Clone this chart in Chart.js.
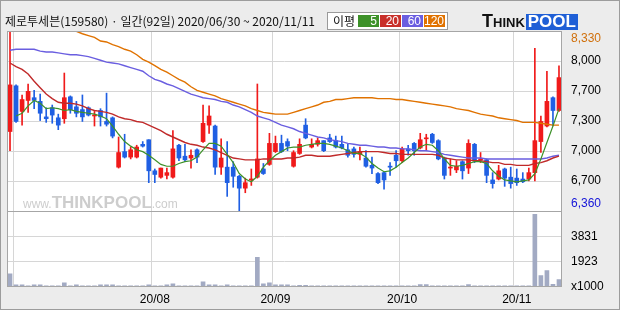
<!DOCTYPE html>
<html><head><meta charset="utf-8">
<script src="https://cdn.jsdelivr.net/npm/chart.js@4"></script>
<style>
html,body{margin:0;padding:0;background:#ececec;}
#wrap{position:relative;width:620px;height:310px;overflow:hidden;background:#ececec;}
#c{position:absolute;left:0;top:0;}
#frame{position:absolute;left:0;top:0;width:620px;height:310px;box-sizing:border-box;border:1px solid #9c9c9c;pointer-events:none;}
#title{position:absolute;left:5px;top:12px;font:12px "Noto Sans CJK KR";color:#111;white-space:nowrap;}
#legend{position:absolute;left:327px;top:12px;width:119px;height:16px;background:#fff;border:1px solid #9a9a9a;}
#legend .lab{position:absolute;left:5px;top:0px;font:12px "Noto Sans CJK KR";color:#111;line-height:15px;}
#legend .cell{position:absolute;top:2px;height:12px;width:21px;color:#fff;font:12px "Liberation Sans";line-height:12px;text-align:right;box-sizing:border-box;padding-right:2px;}
#logo{position:absolute;left:482px;top:11px;white-space:nowrap;font-family:"Liberation Sans";font-weight:bold;}
#logo .t1{font-size:18px;color:#111;}
#logo .t2{font-size:13px;color:#111;}
#logo .pool{display:inline-block;background:#1f5fd6;color:#fff;font-size:17px;padding:0 2px;line-height:16px;margin-left:1px;}
#wm{position:absolute;left:23px;top:193px;white-space:nowrap;font-family:"Liberation Sans";color:#cdcdcd;pointer-events:none;}
#wm .s{font-size:12px;}
#wm .b{font-size:17px;font-weight:bold;}
</style></head>
<body>
<div id="wrap">
<canvas id="c" width="620" height="310"></canvas>
<div id="title">제로투세븐(159580) · 일간(92일) 2020/06/30 ~ 2020/11/11</div>
<div id="legend"><span class="lab">이평</span>
<div class="cell" style="left:30px;background:#3d9129">5</div>
<div class="cell" style="left:52px;background:#c8302a">20</div>
<div class="cell" style="left:74px;background:#6a5ee0">60</div>
<div class="cell" style="left:96px;background:#e07200">120</div>
</div>
<div id="logo"><span class="t1">T</span><span class="t2">HINK</span><span class="pool">POOL</span></div>
<div id="wm"><span class="s">www.</span><span class="b">THINKPOOL</span><span class="s">.com</span></div>
<div id="frame"></div>
</div>
<script>
const dates = ['06/30',
 '07/01','07/02','07/03','07/06','07/07','07/08','07/09','07/10','07/13','07/14','07/15','07/16','07/17','07/20','07/21','07/22','07/23','07/24','07/27','07/28','07/29','07/30','07/31',
 '08/03','08/04','08/05','08/06','08/07','08/10','08/11','08/12','08/13','08/14','08/18','08/19','08/20','08/21','08/24','08/25','08/26','08/27','08/28','08/31',
 '09/01','09/02','09/03','09/04','09/07','09/08','09/09','09/10','09/11','09/14','09/15','09/16','09/17','09/18','09/21','09/22','09/23','09/24','09/25','09/28','09/29',
 '10/05','10/06','10/07','10/08','10/12','10/13','10/14','10/15','10/16','10/19','10/20','10/21','10/22','10/23','10/26','10/27','10/28','10/29','10/30',
 '11/02','11/03','11/04','11/05','11/06','11/09','11/10','11/11'];

const openP = [7230,7730,7450,7570,7600,7560,7390,7490,7380,7370,
 7610,7500,7470,7490,7400,7460,7340,7380,6840,7010,
 6950,6950,7090,7140,6800,6730,6750,6730,7080,6960,
 6940,7030,7120,7300,7290,6840,6840,6840,6740,6610,
 6700,6730,6820,6870,7010,7100,7120,6850,6990,7300,
 7060,7090,7130,7160,7130,7090,7030,7040,6980,6940,
 6860,6770,6780,6850,6970,6910,7040,7100,7050,7150,
 7200,7130,6940,6830,6810,6900,6830,7090,6920,6920,
 6700,6710,6820,6730,6720,6710,6710,6780,7120,7290,
 7600,7460];
const highP = [8330,7740,7630,7750,7680,7640,7490,7520,7420,7870,
 7620,7560,7630,7500,7450,7480,7650,7390,7170,7200,
 7060,7080,7120,7140,6820,6830,6830,7240,7090,7090,
 7030,7040,7520,7510,7300,7150,7120,6900,6750,6720,
 6820,7750,6880,7210,7180,7190,7150,7020,7150,7370,
 7150,7160,7130,7200,7180,7180,7090,7060,7060,7020,
 6950,6780,6790,6890,7020,7060,7080,7110,7210,7200,
 7210,7140,6950,6930,6910,6910,7140,7100,7000,6930,
 6780,6860,6830,6840,6820,6780,6830,8140,7400,7890,
 7610,7950];
const lowP = [7020,7330,7300,7440,7480,7350,7330,7320,7250,7320,
 7430,7390,7340,7400,7290,7290,7290,7160,6830,6940,
 6930,6940,7060,6670,6670,6720,6710,6720,6910,6900,
 6830,6890,7110,7210,6760,6760,6520,6620,6360,6560,
 6640,6720,6760,6860,7000,7000,7020,6840,6980,7150,
 7050,7070,7010,7110,7050,7040,6950,6950,6920,6840,
 6770,6660,6600,6750,6840,6890,6970,6970,7040,7020,
 7100,6920,6710,6750,6780,6710,6770,6890,6890,6670,
 6610,6700,6630,6610,6640,6670,6690,6690,7000,7280,
 7290,7450];
const closeP = [7740,7340,7580,7670,7570,7430,7370,7410,7300,7600,
 7470,7430,7390,7410,7410,7390,7310,7180,7000,6950,
 7030,7060,7070,6800,6760,6830,6780,7040,6940,6920,
 6970,6950,7320,7400,6840,6940,6670,6740,6610,6670,
 6710,6930,6770,7100,7100,7010,7070,7000,7090,7160,
 7090,7130,7020,7120,7060,7050,6970,6980,7010,6850,
 6830,6670,6700,6840,6910,7040,7020,7020,7140,7160,
 7110,6930,6750,6840,6850,6800,7100,6910,6930,6750,
 6660,6800,6720,6660,6670,6680,6780,7130,7340,7560,
 7460,7820];
const volume = [970,130,130,60,130,130,60,60,60,280,
 60,130,60,60,60,130,130,130,60,60,
 60,60,60,130,60,60,130,210,60,60,
 60,60,360,130,130,60,130,60,60,60,
 60,2220,210,280,130,130,130,60,100,100,
 60,60,60,60,60,60,60,60,60,60,
 60,60,60,60,60,60,60,60,150,150,
 60,60,60,60,60,60,150,60,60,60,
 60,60,60,60,60,60,60,5500,840,1220,
 180,530];
const ma5 = [null,7400,7430,7510,7570,7540,7480,7490,7480,7460,
 7470,7450,7440,7430,7420,7400,7370,7290,7200,7120,
 7070,7030,7010,6970,6920,6870,6850,6850,6880,6900,
 6910,6950,7030,7100,7100,7070,6980,6890,6770,6710,
 6680,6740,6840,6910,6970,7010,7050,7060,7060,7080,
 7090,7100,7100,7090,7070,7050,7020,6990,6990,6950,
 6880,6830,6790,6800,6840,6890,6940,7000,7060,7090,
 7080,7020,6930,6860,6850,6860,6880,6900,6900,6880,
 6800,6740,6700,6690,6680,6690,6700,6770,6930,7110,
 7290,7480];
const ma20 = [7980,7940,7910,7860,7780,7710,7640,7590,7550,7540,
 7540,7530,7510,7480,7460,7450,7440,7420,7390,7370,
 7360,7340,7330,7300,7270,7240,7200,7170,7140,7110,
 7090,7080,7060,7050,7030,7000,6970,6940,6930,6920,
 6920,6920,6930,6930,6930,6930,6940,6940,6950,6970,
 6970,6960,6960,6960,6970,6980,6990,7000,7010,7010,
 7010,7010,7000,6990,6990,6980,6980,6980,6980,6980,
 6980,6970,6940,6930,6920,6920,6920,6910,6910,6900,
 6890,6890,6870,6870,6860,6860,6860,6880,6890,6910,
 6940,6960];
const ma60 = [8120,8130,8130,8130,8130,8110,8100,8100,8090,8080,
 8070,8070,8060,8050,8030,8010,7990,7980,7970,7950,
 7930,7910,7890,7840,7800,7780,7750,7730,7700,7670,
 7640,7620,7600,7590,7580,7560,7550,7520,7500,7470,
 7440,7400,7380,7360,7330,7300,7280,7260,7230,7210,
 7190,7170,7160,7140,7130,7120,7100,7090,7080,7080,
 7070,7060,7060,7050,7050,7040,7040,7030,7020,7020,
 7010,7000,6980,6970,6960,6950,6940,6940,6940,6930,
 6930,6930,6930,6930,6930,6930,6930,6930,6930,6940,
 6960,6970];
const ma120 = [null,null,null,null,null,null,null,null,8400,8380,
 8355,8327,8300,8280,8260,8220,8210,8180,8160,8130,
 8110,8070,8020,7990,7950,7910,7880,7840,7800,7770,
 7720,7680,7660,7640,7620,7590,7570,7550,7530,7510,
 7480,7460,7440,7430,7420,7420,7420,7440,7460,7480,
 7500,7520,7550,7560,7580,7580,7590,7600,7600,7600,
 7600,7590,7590,7590,7580,7580,7570,7560,7550,7540,
 7530,7520,7510,7500,7480,7470,7460,7440,7420,7410,
 7400,7380,7370,7360,7350,7330,7330,7330,7320,7310,
 7300,7300];

const priceTickLabels = ['6,360','6,700','7,000','7,300','7,700','8,000','8,330'];
const priceMin = 6360, priceMax = 8330;
const volTickLabels = ['x1000','1923','3831'];
const volMax = 5750;
const monthStarts = ['07/01','08/03','09/01','10/05','11/02'];
const monthLabels = ['','20/08','20/09','20/10','20/11'];

const UP = '#f01a1a', DOWN = '#1f5fe3';
const isUp = i => closeP[i] >= openP[i];
const candleColor = ctx => isUp(ctx.dataIndex) ? UP : DOWN;
const wickData = dates.map((d, i) => [lowP[i], highP[i]]);
const bodyData = dates.map((d, i) => [openP[i], closeP[i]]);
const GRID = '#d6d6d6';

Chart.defaults.font.family = 'Liberation Sans';
Chart.defaults.font.size = 12;

const framePlugin = {
  id: 'frame',
  beforeDraw(chart) {
    const {ctx, chartArea: a} = chart;
    ctx.save();
    ctx.fillStyle = '#fff';
    ctx.fillRect(a.left, a.top, a.right - a.left, a.bottom - a.top);
    ctx.restore();
  },
  afterDraw(chart) {
    const {ctx, chartArea: a, scales} = chart;
    ctx.save();
    ctx.strokeStyle = '#a6a6a6';
    ctx.lineWidth = 1;
    ctx.strokeRect(Math.round(a.left) + 0.5, Math.round(a.top) + 0.5, Math.round(a.right - a.left) - 1, Math.round(a.bottom - a.top) - 1);
    const sy = Math.round(scales.yp.bottom) + 0.5;
    ctx.beginPath(); ctx.moveTo(a.left, sy); ctx.lineTo(a.right, sy); ctx.stroke();
    ctx.restore();
  }
};

new Chart(document.getElementById('c'), {
  type: 'bar',
  data: {
    labels: dates,
    datasets: [
      {type: 'line', label: '5', data: ma5, yAxisID: 'yp', borderColor: '#3d9129', borderWidth: 1.2, pointRadius: 0, order: 1},
      {type: 'line', label: '20', data: ma20, yAxisID: 'yp', borderColor: '#c02a2a', borderWidth: 1.4, pointRadius: 0, order: 1},
      {type: 'line', label: '60', data: ma60, yAxisID: 'yp', borderColor: '#6a5ee0', borderWidth: 1.4, pointRadius: 0, order: 1},
      {type: 'line', label: '120', data: ma120, yAxisID: 'yp', borderColor: '#e07200', borderWidth: 1.4, pointRadius: 0, order: 1},
      {label: 'body', data: bodyData, yAxisID: 'yp', backgroundColor: candleColor, barThickness: 4, minBarLength: 1, grouped: false, order: 2},
      {label: 'wick', data: wickData, yAxisID: 'yp', backgroundColor: candleColor, barThickness: 1, minBarLength: 1, grouped: false, order: 3},
      {label: 'vol', data: volume, yAxisID: 'yv', backgroundColor: '#a2aac3', barThickness: 4, grouped: false, order: 4}
    ]
  },
  options: {
    responsive: false, animation: false, devicePixelRatio: 1,
    layout: {padding: {left: 7, top: 31, right: 0, bottom: 0}},
    plugins: {legend: {display: false}, tooltip: {enabled: false}},
    scales: {
      x: {
        type: 'category', offset: true,
        grid: {offset: true, drawTicks: false, lineWidth: 1,
          color: ctx => (ctx.index !== undefined && monthStarts.includes(dates[ctx.index])) ? GRID : 'rgba(0,0,0,0)'},
        border: {display: false},
        ticks: {autoSkip: false, maxRotation: 0, minRotation: 0, padding: 6, color: '#000',
          font: {size: 12},
          callback: (v, i) => { const k = monthStarts.indexOf(dates[i]); return k >= 0 ? monthLabels[k] : ''; }},
        afterFit: s => { s.height = 22; }
      },
      yp: {
        type: 'linear', position: 'right', stack: 'v', stackWeight: 181,
        min: priceMin, max: priceMax,
        afterBuildTicks: s => { s.ticks = priceTickLabels.map((t, k) => ({value: priceMin + k * (priceMax - priceMin) / 6})); },
        grid: {drawTicks: false, lineWidth: 1, color: ctx => (ctx.index === 0 || ctx.index === 6) ? 'rgba(0,0,0,0)' : GRID},
        border: {display: false},
        ticks: {autoSkip: false, padding: 9, font: {size: 12},
          color: ctx => ctx.index === 0 ? '#1414d8' : (ctx.index === 6 ? '#d0700c' : '#000'),
          callback: (v, i) => i === 0 ? [priceTickLabels[0], ''] : (i === 6 ? ['', priceTickLabels[6]] : priceTickLabels[i])},
        afterFit: s => { s.width = 58; }
      },
      yv: {
        type: 'linear', position: 'right', stack: 'v', stackWeight: 76,
        min: 0, max: volMax,
        afterBuildTicks: s => { s.ticks = volTickLabels.map((t, k) => ({value: k * volMax / 3})); },
        grid: {drawTicks: false, lineWidth: 1, color: ctx => ctx.index === 0 ? 'rgba(0,0,0,0)' : GRID},
        border: {display: false},
        ticks: {autoSkip: false, padding: 9, font: {size: 12}, color: '#000',
          callback: (v, i) => volTickLabels[i]},
        afterFit: s => { s.width = 58; }
      }
    }
  },
  plugins: [framePlugin]
});
</script>
</body></html>
